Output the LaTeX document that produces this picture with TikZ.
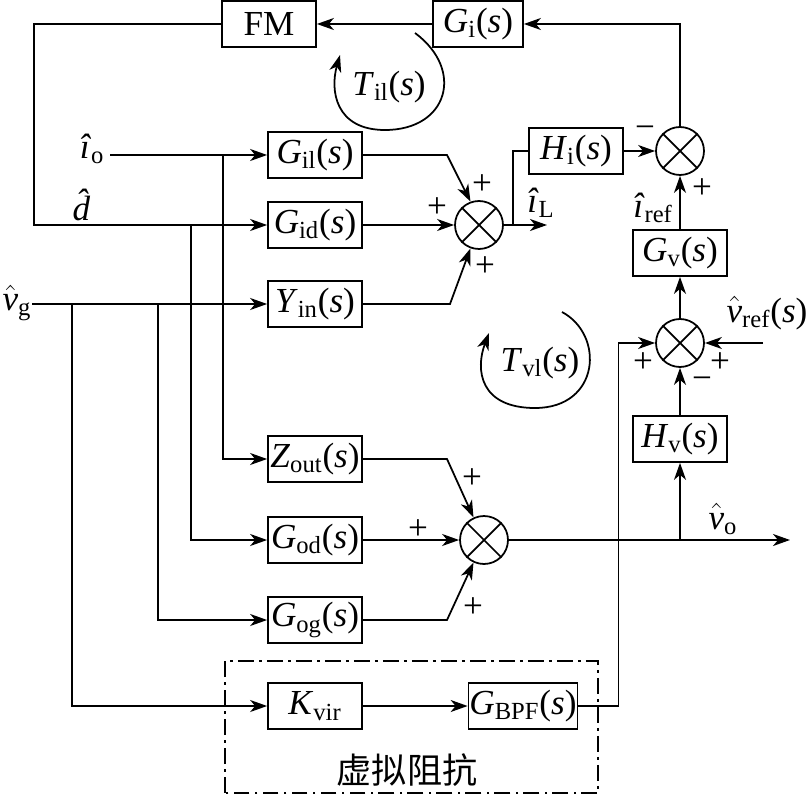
\documentclass[tikz,border=0pt]{standalone}
\usepackage{fontspec}
\setmainfont{Liberation Serif}
\newfontfamily\cjk{Noto Sans CJK SC}
\usetikzlibrary{arrows.meta, calc}

\newcommand{\tfn}[2]{\textit{#1}\textsubscript{#2}(\textit{s})}
\newcommand{\hatv}[2]{$\hat{\mbox{\itshape #1}}$\textsubscript{#2}}
\newcommand{\hati}[1]{\textit{î}\textsubscript{#1}}

\tikzset{
  blockbox/.style={draw, line width=1pt, minimum width=1.88cm, minimum height=0.92cm, inner sep=0pt},
  sumjn/.style={draw, circle, line width=1pt, minimum size=0.96cm, inner sep=0pt},
  sgn/.style={inner sep=0pt},
}

\begin{document}
\begin{tikzpicture}[x=0.02cm, y=0.02cm, line width=1pt,
    >={Stealth[length=3.4mm,width=2.4mm,inset=1mm]},
    font=\fontsize{20}{24}\selectfont]
  \useasboundingbox (0,0) rectangle (810,795);

  % blocks
  \node[blockbox] (fm) at (269,771) {FM};
  \node[blockbox, minimum width=1.8cm] (gi) at (478,771) {\tfn{G}{i}};
  \node[blockbox] (gil) at (315,640) {\tfn{G}{il}};
  \node[blockbox] (gid) at (315,570) {\tfn{G}{id}};
  \node[blockbox] (yin) at (315,491) {\tfn{Y}{in}};
  \node[blockbox] (zout) at (315,336) {\tfn{Z}{out}};
  \node[blockbox] (god) at (315,255) {\tfn{G}{od}};
  \node[blockbox] (gog) at (315,175) {\tfn{G}{og}};
  \node[blockbox] (kvir) at (315,89) {\textit{K}\textsubscript{vir}};
  \node[blockbox, minimum width=2.18cm] (gbpf) at (523,89) {\tfn{G}{BPF}};
  \node[blockbox] (hi) at (576,644) {\tfn{H}{i}};
  \node[blockbox] (gv) at (680,542) {\tfn{G}{v}};
  \node[blockbox] (hv) at (680,356) {\tfn{H}{v}};

  % summing junctions
  \node[sumjn] (s1) at (479,570) {};
  \node[sumjn] (s2) at (680,644) {};
  \node[sumjn] (s3) at (680,452) {};
  \node[sumjn] (s4) at (484,255) {};
  \foreach \s in {s1,s2,s3,s4}
    \draw (\s.north east) -- (\s.south west) (\s.north west) -- (\s.south east);

  % inputs and branch points
  \coordinate (io) at (110,640);
  \coordinate (vg) at (32,491);
  \coordinate (dfb) at (34,570);
  \coordinate (b1) at (223,640);
  \coordinate (b2) at (191,570);
  \coordinate (b3) at (158,491);
  \coordinate (b4) at (72,491);
  \coordinate (k1) at (447,640);
  \coordinate (k2) at (450,491);
  \coordinate (k3) at (447,336);
  \coordinate (k4) at (447,175);
  \coordinate (ib) at (513,570);
  \coordinate (ilend) at (547,570);
  \coordinate (vob) at (680,255);
  \coordinate (voend) at (790,255);
  \coordinate (vref) at (763,452);

  \draw[->] (s2.north) |- (gi.east);
  \draw[->] (gi.west) -- (fm.east);
  \draw[->] (fm.west) -| (dfb) -- (gid.west);
  \draw[->] (io) -- (gil.west);
  \draw[->] (vg) -- (yin.west);
  \draw[->] (b1) |- (zout.west);
  \draw[->] (b2) |- (god.west);
  \draw[->] (b3) |- (gog.west);
  \draw[->] (b4) |- (kvir.west);

  \draw[->] (gil.east) -- (k1) -- (s1.110);
  \draw[->] (gid.east) -- (s1.west);
  \draw[->] (yin.east) -- (k2) -- (s1.250);
  \draw[->] (s1.east) -- (ilend);
  \draw (ib) |- (hi.west);
  \draw[->] (hi.east) -- (s2.west);
  \draw[->] (gv.north) -- (s2.south);
  \draw[->] (s3.north) -- (gv.south);
  \draw[->] (hv.north) -- (s3.south);
  \draw[->] (vob) -- (hv.south);
  \draw[->] (vref) -- (s3.east);

  \draw[->] (zout.east) -- (k3) -- (s4.115);
  \draw[->] (god.east) -- (s4.west);
  \draw[->] (gog.east) -- (k4) -- (s4.245);
  \draw[->] (s4.east) -- (voend);

  \draw[->] (kvir.east) -- (gbpf.west);
  \draw[->] (gbpf.east) -- ++(40,0) |- (s3.west);

  % virtual impedance box
  \draw[line width=0.8pt, dash pattern=on 9pt off 3pt on 1.5pt off 3pt] (225,2) rectangle (598,134);
  \node (vimp) at (407,25) {\cjk 虚拟阻抗};

  % loop gains
  \draw[->] (415,762) .. controls (465,725) and (448,665) .. (385,665)
    .. controls (335,665) and (330,705) .. (340,740);
  \node (til) at (389,708) {\tfn{T}{il}};
  \draw[->] (562,483) .. controls (605,460) and (600,387) .. (535,387)
    .. controls (480,387) and (475,425) .. (489,462);
  \node (tvl) at (540,432) {\tfn{T}{vl}};

  % signal labels
  \node (iol) at (92,646) {\hati{o}};
  \node (dl) at (88,590) {\textit{d̂}};
  \node (vgl) at (17,492) {\hatv{v}{g}};
  \node (ill) at (541,592) {\hati{L}};
  \node (irefl) at (653,587) {\hati{ref}};
  \node (vrefl) at (767,482) {\hatv{v}{ref}(\textit{s})};
  \node (vol) at (723,276) {\hatv{v}{o}};

  % signs
  \node[sgn] (p1) at (482,610) {+};
  \node[sgn] (p2) at (437,587) {+};
  \node[sgn] (p3) at (485,528) {+};
  \node[sgn] (p4) at (645,663) {−};
  \node[sgn] (p5) at (702,606) {+};
  \node[sgn] (p6) at (643,432) {+};
  \node[sgn] (p7) at (720,432) {+};
  \node[sgn] (p8) at (702,412) {−};
  \node[sgn] (p9) at (472,316) {+};
  \node[sgn] (p10) at (418,265) {+};
  \node[sgn] (p11) at (473,187) {+};
\end{tikzpicture}
\end{document}
